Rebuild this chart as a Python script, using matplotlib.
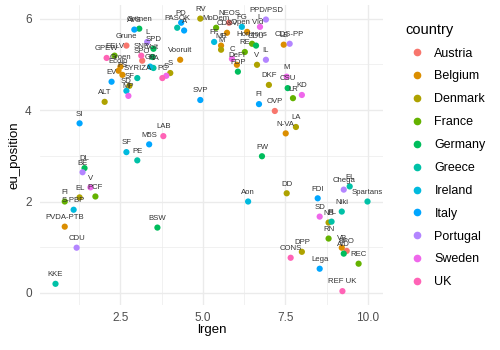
import matplotlib
matplotlib.use('Agg')
import matplotlib.pyplot as plt
from matplotlib.lines import Line2D
import pandas as pd

# party positions
party = ['KKE', 'CDU', 'PVDA-PTB', 'S-PBP', 'FI', 'EL', 'V', 'PCF', 'DL', 'BE',
         'SI', 'ALT', 'SF', 'PE', 'M5S', 'LAB', 'BSW',
         'GPEW', 'EELV', 'Grune', 'AVS', 'Grünen', 'L', 'SPD', 'SPÖ', 'SNP', 'Volt',
         'Groen', 'Ecolo', 'EV', 'SF', 'PS', 'SD', 'MP', 'SYRIZA', 'GP', 'NA',
         'PC', 'S', 'S', 'Vooruit', 'PASOK', 'PD', 'A', 'RV', 'MoDem', 'NEOS',
         'CD&V', 'FF', 'MR', 'M', 'FG', 'Open Vld', 'PPD/PSD', 'L', 'Horizons',
         'CDU', 'RE', 'LE', 'CDS-PP', 'C', 'DeFI', 'FDP', 'V', 'IL', 'DKF', 'FI',
         'OVP', 'SVP', 'M', 'CSU', 'LR', 'KD', 'LA', 'N-VA', 'FW', 'Aon', 'DD',
         'FDI', 'Chega', 'EL', 'Spartans', 'Niki', 'SD', 'NB', 'FL', 'RN', 'VB',
         'FPO', 'AfD', 'REC', 'Lega', 'REF UK', 'CONS', 'DPP']
country = ['Greece', 'Portugal', 'Belgium', 'Ireland', 'France', 'Denmark', 'Sweden', 'France', 'Germany', 'Portugal',
           'Italy', 'Denmark', 'Ireland', 'Greece', 'Italy', 'UK', 'Germany',
           'UK', 'France', 'Austria', 'Italy', 'Germany', 'Portugal', 'Germany', 'Austria', 'UK', 'Germany',
           'Belgium', 'Belgium', 'Italy', 'Denmark', 'Belgium', 'Ireland', 'Sweden', 'Greece', 'Ireland', 'Greece',
           'UK', 'Sweden', 'Denmark', 'Belgium', 'Greece', 'Italy', 'Italy', 'Denmark', 'France', 'Austria',
           'Belgium', 'Ireland', 'Belgium', 'Denmark', 'Ireland', 'Belgium', 'Portugal', 'Sweden', 'France',
           'Germany', 'France', 'Belgium', 'Portugal', 'Sweden', 'Belgium', 'Germany', 'Denmark', 'Portugal', 'Denmark', 'Italy',
           'Austria', 'Italy', 'Sweden', 'Germany', 'France', 'Sweden', 'Denmark', 'Belgium', 'Germany', 'Ireland', 'Denmark',
           'Italy', 'Portugal', 'Greece', 'Greece', 'Greece', 'Sweden', 'Denmark', 'Greece', 'France', 'Belgium',
           'Austria', 'Germany', 'France', 'Italy', 'UK', 'UK', 'Denmark']
lrgen = [0.53, 1.17, 0.81, 1.08, 0.81, 1.26, 1.59, 1.74, 1.41, 1.35,
         1.26, 2.02, 2.68, 3.01, 3.37, 3.80, 3.62,
         2.08, 2.32, 2.68, 2.92, 3.07, 3.31, 3.50, 3.16, 3.13, 3.47,
         2.50, 2.44, 2.23, 2.77, 2.56, 2.68, 2.74, 3.01, 3.40, 3.50,
         3.77, 3.89, 4.01, 4.31, 4.22, 4.34, 4.43, 4.92, 5.40, 5.79,
         5.73, 5.34, 5.55, 5.55, 6.18, 6.34, 6.91, 6.73, 6.49,
         6.61, 6.27, 7.45, 7.63, 5.88, 6.03, 6.06, 6.64, 6.91, 7.00, 6.70,
         7.18, 4.92, 7.54, 7.57, 7.73, 8.00, 7.82, 7.51, 6.79, 6.37, 7.54,
         8.48, 9.27, 9.45, 9.99, 9.21, 8.54, 8.81, 8.90, 8.81, 9.21,
         9.36, 9.27, 9.72, 8.54, 9.23, 7.66, 8.00]
eu_position = [0.20, 0.99, 1.45, 1.82, 2.00, 2.09, 2.31, 2.11, 2.73, 2.64,
               3.71, 4.18, 3.08, 2.90, 3.25, 3.43, 1.43,
               5.14, 5.19, 5.41, 5.76, 5.78, 5.49, 5.34, 5.08, 5.19, 5.16,
               4.95, 4.86, 4.62, 4.53, 4.77, 4.42, 4.31, 4.70, 4.95, 4.92,
               4.70, 4.75, 4.81, 5.10, 5.80, 5.91, 5.74, 6.00, 5.80, 5.91,
               5.69, 5.49, 5.41, 5.32, 5.82, 5.71, 5.98, 5.82, 5.45,
               5.41, 5.27, 5.43, 5.45, 5.12, 4.99, 4.84, 4.99, 5.10, 4.55, 4.13,
               3.98, 4.22, 4.73, 4.48, 4.26, 4.33, 3.63, 3.49, 2.99, 2.00, 2.18,
               2.07, 2.26, 2.33, 2.00, 1.78, 1.67, 1.54, 1.56, 1.19, 0.99,
               0.92, 0.86, 0.64, 0.53, 0.04, 0.77, 0.90]

countries = ['Austria', 'Belgium', 'Denmark', 'France', 'Germany', 'Greece',
             'Ireland', 'Italy', 'Portugal', 'Sweden', 'UK']
palette = ['#F8766D', '#DB8E00', '#AEA200', '#64B200', '#00BD5C', '#00C1A7',
           '#00BADE', '#00A6FF', '#B385FF', '#EF67EB', '#FF63B6']

df = pd.DataFrame({'party': party, 'country': country,
                   'lrgen': lrgen, 'eu_position': eu_position})

plt.rcParams['font.family'] = ['Liberation Sans', 'DejaVu Sans']

fig = plt.figure(figsize=(5, 3.5), dpi=100)
ax = fig.add_axes([0.08, 0.129, 0.686, 0.857])

for c, col in zip(countries, palette):
    sel = df[df['country'] == c]
    ax.scatter(sel['lrgen'], sel['eu_position'], s=20, color=col,
               edgecolors='none', zorder=3)

# labels sit just above their points
for _, r in df.iterrows():
    ax.text(r['lrgen'], r['eu_position'] + 0.2, r['party'], ha='center', va='center',
            fontsize=5.6, color='#333333', zorder=4)

ax.set_xlim(0.06, 10.46)
ax.set_ylim(-0.26, 6.3)
ax.set_xticks([2.5, 5.0, 7.5, 10.0])
ax.set_xticklabels(['2.5', '5.0', '7.5', '10.0'])
ax.set_xticks([1.25, 3.75, 6.25, 8.75], minor=True)
ax.set_yticks([0, 2, 4, 6])
ax.set_yticks([1, 3, 5], minor=True)
ax.grid(which='major', color='#EBEBEB', linewidth=1.0)
ax.grid(which='minor', color='#EBEBEB', linewidth=0.5)
ax.set_axisbelow(True)
for s in ax.spines.values():
    s.set_visible(False)
ax.tick_params(which='both', length=0, labelsize=8.5, labelcolor='#4D4D4D')
ax.tick_params(axis='x', pad=5)
ax.tick_params(axis='y', pad=6)
ax.set_xlabel('lrgen', fontsize=9.5, labelpad=0)
ax.set_ylabel('eu_position', fontsize=9.5, labelpad=3)

handles = [Line2D([], [], marker='o', linestyle='none', color=col, markersize=4.5)
           for col in palette]
leg = fig.legend(handles, countries, loc='upper left', bbox_to_anchor=(0.81, 0.935),
                 frameon=False, title='country', title_fontsize=10.5, fontsize=9,
                 handlelength=1.9, handletextpad=0.45, labelspacing=0.87,
                 borderaxespad=0, borderpad=0, alignment='left')

fig.savefig('out.png', dpi=100)
